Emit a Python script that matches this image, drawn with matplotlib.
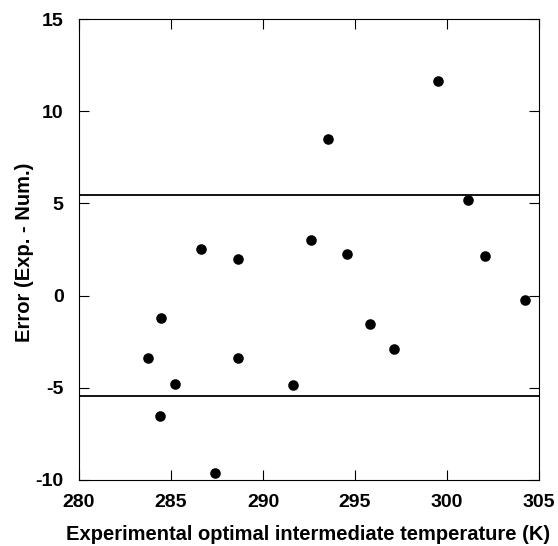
import matplotlib
matplotlib.use("Agg")
import matplotlib.pyplot as plt

temperature = [283.77, 284.46, 284.42, 285.2, 286.61, 287.41, 288.66, 288.62,
               291.63, 292.61, 293.55, 294.55, 295.83, 297.1, 299.5, 301.16,
               302.07, 304.24]
error = [-3.40, -1.23, -6.51, -4.78, 2.54, -9.64, 1.97, -3.37,
         -4.83, 3.02, 8.49, 2.26, -1.54, -2.91, 11.65, 5.18,
         2.15, -0.24]
bounds = [5.43, -5.43]
x_ticks = [280, 285, 290, 295, 300, 305]
y_ticks = [-10, -5, 0, 5, 10, 15]

plt.rcParams['font.family'] = ['Liberation Sans', 'DejaVu Sans']
plt.rcParams['font.weight'] = 'bold'
plt.rcParams['axes.unicode_minus'] = False

fig = plt.figure(figsize=(5.58, 5.46), dpi=100)
ax = fig.add_axes([79/558, 1-480/546, 460/558, 461/546])

ax.scatter(temperature, error, s=58, color='black', zorder=3, linewidths=0)
for b in bounds:
    ax.axhline(b, color='black', linewidth=1.3)

ax.set_xlim(280, 305)
ax.set_ylim(-10, 15)
ax.set_xticks(x_ticks)
ax.set_yticks(y_ticks)
ax.tick_params(direction='in', top=True, right=True, length=7, width=0.8,
               labelsize=14)
ax.tick_params(axis='x', pad=10)
ax.tick_params(axis='y', pad=11)
for lbl in ax.get_xticklabels() + ax.get_yticklabels():
    lbl.set_fontweight('bold')
for s in ax.spines.values():
    s.set_linewidth(0.8)

ax.set_xlabel('Experimental optimal intermediate temperature (K)',
              fontsize=14.5, fontweight='bold')
ax.xaxis.set_label_coords(0.497, -0.097)
ax.set_ylabel('Error (Exp. - Num.)', fontsize=14.5, fontweight='bold')
ax.yaxis.set_label_coords(-0.098, 0.493)

fig.savefig('out.png', dpi=100)
